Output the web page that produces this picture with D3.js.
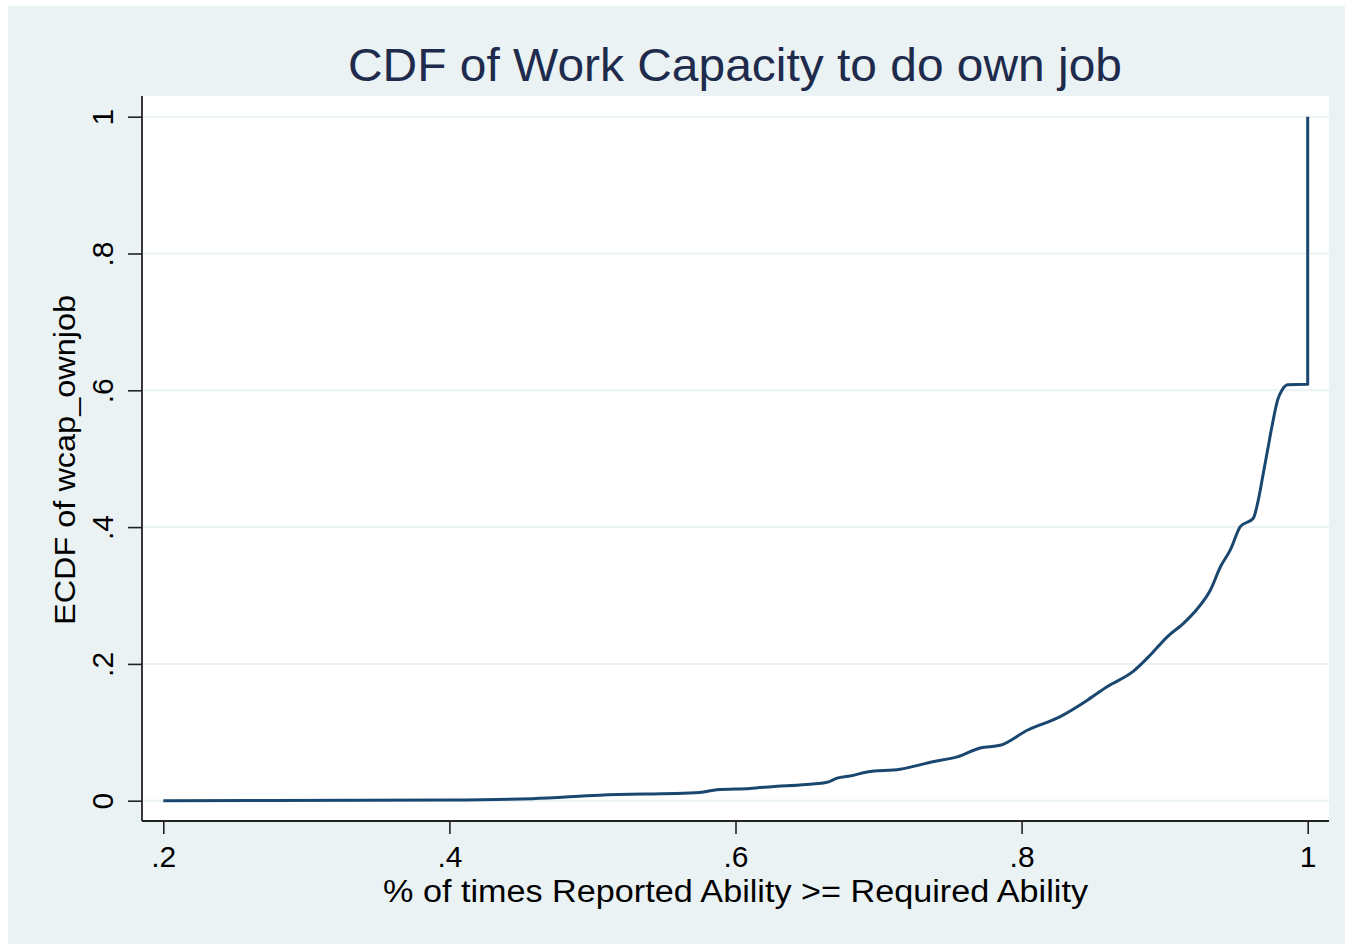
<!DOCTYPE html>
<html>
<head>
<meta charset="utf-8">
<script src="https://cdn.jsdelivr.net/npm/d3@7"></script>
<style>
  body { margin: 0; background: #fff; }
  text { font-family: "Liberation Sans", Arial, Helvetica, sans-serif; }
</style>
</head>
<body>
<svg width="1345" height="944"></svg>
<script>
  // ECDF points
  const xVals = [0.200, 0.400, 0.458, 0.505, 0.575, 0.587, 0.610, 0.629, 0.645, 0.664,
    0.671, 0.680, 0.692, 0.715, 0.738, 0.755, 0.771, 0.785, 0.804, 0.827,
    0.846, 0.860, 0.878, 0.890, 0.902, 0.913, 0.923, 0.932, 0.939, 0.946,
    0.953, 0.962, 0.965, 0.969, 0.972, 0.975, 0.979, 0.982, 0.986, 0.999,
    1.000, 1.000];
  const yVals = [0.000, 0.001, 0.003, 0.008, 0.012, 0.016, 0.018, 0.021, 0.023, 0.027,
    0.033, 0.036, 0.042, 0.046, 0.057, 0.064, 0.077, 0.081, 0.103, 0.123,
    0.147, 0.167, 0.189, 0.213, 0.240, 0.259, 0.281, 0.308, 0.342, 0.367,
    0.401, 0.413, 0.435, 0.479, 0.513, 0.547, 0.586, 0.600, 0.608, 0.609,
    0.609, 1.000];

  const xTicks = [0.2, 0.4, 0.6, 0.8, 1];
  const yTicks = [0, 0.2, 0.4, 0.6, 0.8, 1];
  const fmt = d => d === 0 ? '0' : d === 1 ? '1' : String(d).replace(/^0/, '');

  const titleText = 'CDF of Work Capacity to do own job';
  const xTitle = '% of times Reported Ability >= Required Ability';
  const yTitle = 'ECDF of wcap_ownjob';

  const svg = d3.select('svg');
  const plot = { left: 142, right: 1329, top: 96, bottom: 821 };

  const x = d3.scaleLinear().domain([0.2, 1]).range([163.3, 1307.7]);
  const y = d3.scaleLinear().domain([0, 1]).range([800.7, 116.7]);

  // graph region
  svg.append('rect')
    .attr('x', 8).attr('y', 6)
    .attr('width', 1337).attr('height', 938)
    .attr('fill', '#eaf2f3');

  // plot region
  svg.append('rect')
    .attr('x', plot.left).attr('y', plot.top)
    .attr('width', plot.right - plot.left)
    .attr('height', plot.bottom - plot.top)
    .attr('fill', '#fff');

  // grid lines
  svg.append('g')
    .selectAll('line')
    .data(yTicks)
    .enter()
    .append('line')
    .attr('x1', plot.left).attr('x2', plot.right)
    .attr('y1', d => y(d)).attr('y2', d => y(d))
    .attr('stroke', '#eaf2f3')
    .attr('stroke-width', 2);

  // x axis
  const xAxis = svg.append('g')
    .attr('transform', `translate(0,${plot.bottom})`)
    .call(d3.axisBottom(x).tickValues(xTicks).tickSize(13).tickFormat(fmt));
  xAxis.select('.domain')
    .attr('d', `M${plot.left},0H${plot.right}`)
    .attr('stroke', '#222').attr('stroke-width', 1.8);
  xAxis.selectAll('.tick line').attr('stroke', '#222').attr('stroke-width', 1.6);
  xAxis.selectAll('.tick text')
    .attr('font-size', 30)
    .attr('fill', '#000')
    .attr('dy', null)
    .attr('y', 46);

  // y axis
  const yAxis = svg.append('g')
    .attr('transform', `translate(${plot.left},0)`)
    .call(d3.axisLeft(y).tickValues(yTicks).tickSize(14).tickFormat(fmt));
  yAxis.select('.domain')
    .attr('d', `M0,${plot.top}V${plot.bottom}`)
    .attr('stroke', '#222').attr('stroke-width', 1.8);
  yAxis.selectAll('.tick line').attr('stroke', '#222').attr('stroke-width', 1.6);
  yAxis.selectAll('.tick text')
    .attr('font-size', 30)
    .attr('fill', '#000')
    .attr('x', null).attr('dy', null)
    .attr('text-anchor', 'middle')
    .attr('transform', 'translate(-29,0) rotate(-90)');

  // ECDF line
  const pts = xVals.map((v, i) => [v, yVals[i]]);
  svg.append('path')
    .datum(pts)
    .attr('fill', 'none')
    .attr('stroke', '#1a476f')
    .attr('stroke-width', 3)
    .attr('stroke-linejoin', 'round')
    .attr('d', d3.line().x(d => x(d[0])).y(d => y(d[1])).curve(d3.curveMonotoneX));

  // titles
  svg.append('text')
    .attr('x', 735).attr('y', 81)
    .attr('text-anchor', 'middle')
    .attr('font-size', 47)
    .attr('textLength', 774)
    .attr('lengthAdjust', 'spacingAndGlyphs')
    .attr('fill', '#1e2b4c')
    .text(titleText);

  svg.append('text')
    .attr('x', 735.5).attr('y', 902)
    .attr('text-anchor', 'middle')
    .attr('font-size', 31)
    .attr('textLength', 705)
    .attr('lengthAdjust', 'spacingAndGlyphs')
    .attr('fill', '#000')
    .text(xTitle);

  svg.append('text')
    .attr('transform', 'translate(75,460) rotate(-90)')
    .attr('text-anchor', 'middle')
    .attr('font-size', 30)
    .attr('textLength', 330)
    .attr('lengthAdjust', 'spacingAndGlyphs')
    .attr('fill', '#000')
    .text(yTitle);
</script>
</body>
</html>
